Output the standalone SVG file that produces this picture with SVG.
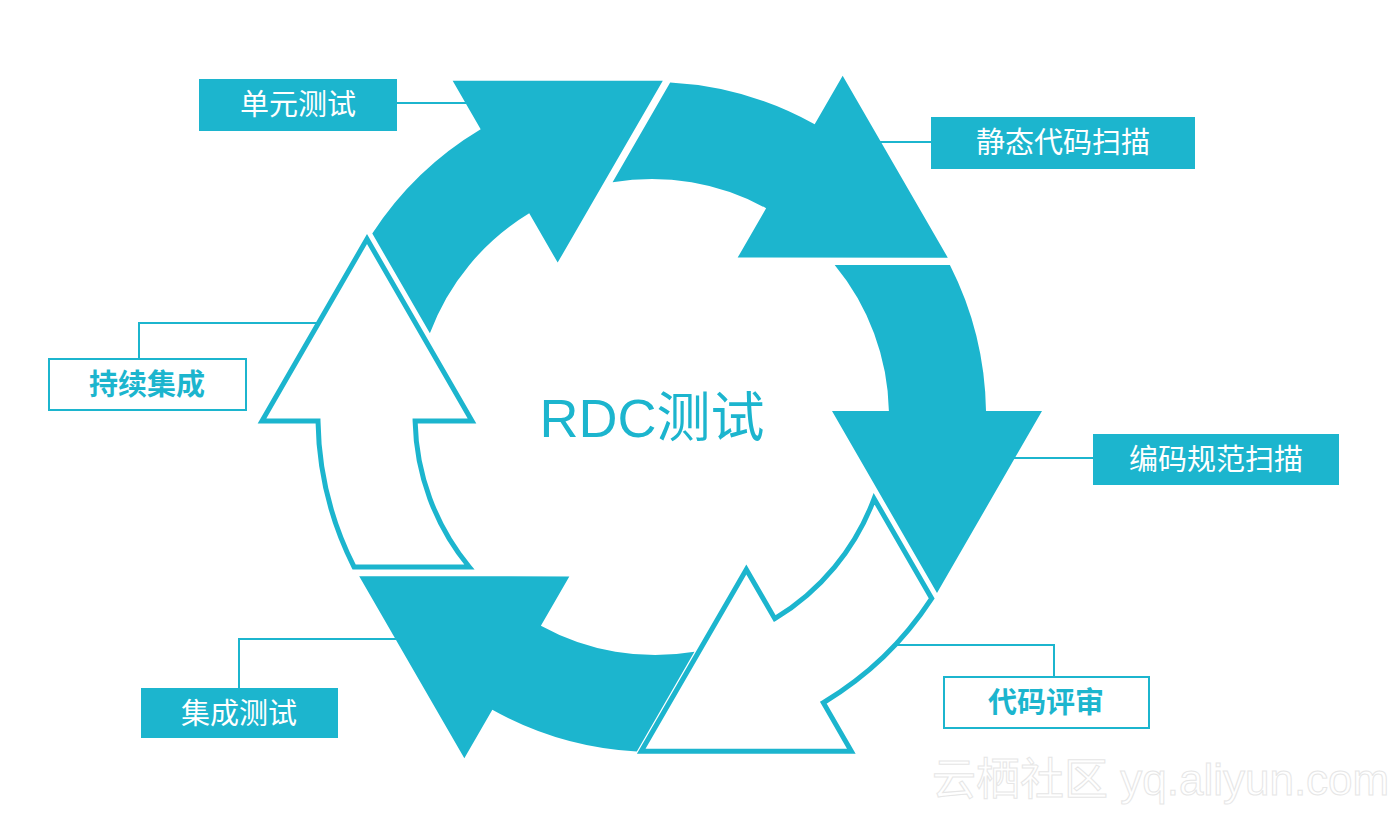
<svg xmlns="http://www.w3.org/2000/svg" xmlns:xlink="http://www.w3.org/1999/xlink" width="1400" height="813" viewBox="0 0 1400 813">
  <style>
    .conn { fill: none; stroke: #1cb5ce; stroke-width: 2; }
    .solid { fill: #1cb5ce; }
    .hollow { fill: #ffffff; stroke: #1cb5ce; stroke-width: 5; stroke-linejoin: miter; stroke-miterlimit: 10; }
    .boxf { fill: #1cb5ce; }
    .boxo { fill: #ffffff; stroke: #1cb5ce; stroke-width: 2; }
    .lblf { font-family: "Noto Sans CJK SC", "Noto Sans", sans-serif; font-size: 29px; fill: #ffffff; text-anchor: middle; }
    .lblo { font-family: "Noto Sans CJK SC", "Noto Sans", sans-serif; font-size: 29px; font-weight: bold; fill: #1cb5ce; text-anchor: middle; }
    .title { font-family: "Liberation Sans", "Noto Sans CJK SC", sans-serif; font-size: 54px; fill: #1cb5ce; text-anchor: middle; }
    .wm { font-family: "Liberation Sans", "Noto Sans CJK SC", sans-serif; font-size: 44px; fill: #ffffff; stroke: #e6e6e6; stroke-width: 1; }
  </style>
  <defs>
    <path id="arr" d="M 182.7,-151 L 297.9,-151 A 334 334 0 0 1 334,-5 L 390,-5 L 285,177 L 180,-5 L 236.9,-5 A 237 237 0 0 0 182.7,-151 Z"/>
  </defs>
  <rect width="1400" height="813" fill="#ffffff"/>

  <g id="connectors">
    <polyline class="conn" points="397,103 470,103"/>
    <polyline class="conn" points="870,142 931,142"/>
    <polyline class="conn" points="1005,458 1093,458"/>
    <polyline class="conn" points="890,645 1054,645 1054,677"/>
    <polyline class="conn" points="405,639 239,639 239,688"/>
    <polyline class="conn" points="320,323 139,323 139,359"/>
  </g>

  <g id="cycle" transform="translate(652,416)">
    <g id="arrow-unit"><use xlink:href="#arr" href="#arr" class="solid" transform="rotate(-120)"/></g>
    <g id="arrow-static"><use xlink:href="#arr" href="#arr" class="solid" transform="rotate(-60)"/></g>
    <g id="arrow-style"><use xlink:href="#arr" href="#arr" class="solid"/></g>
    <g id="arrow-review"><use xlink:href="#arr" href="#arr" class="hollow" transform="rotate(60)"/></g>
    <g id="arrow-integration"><use xlink:href="#arr" href="#arr" class="solid" transform="translate(3,2) rotate(120)"/></g>
    <g id="arrow-ci"><use xlink:href="#arr" href="#arr" class="hollow" transform="rotate(180)"/></g>
  </g>

  <g id="title">
    <text class="title" x="652" y="437">RDC测试</text>
  </g>

  <g id="node-unit">
    <rect class="boxf" x="199" y="79" width="198" height="52"/>
    <text class="lblf" x="298" y="115">单元测试</text>
  </g>
  <g id="node-static">
    <rect class="boxf" x="931" y="117" width="264" height="52"/>
    <text class="lblf" x="1063" y="153">静态代码扫描</text>
  </g>
  <g id="node-style">
    <rect class="boxf" x="1093" y="434" width="246" height="51"/>
    <text class="lblf" x="1216" y="470">编码规范扫描</text>
  </g>
  <g id="node-review">
    <rect class="boxo" x="944" y="677" width="205" height="51"/>
    <text class="lblo" x="1046" y="713">代码评审</text>
  </g>
  <g id="node-integration">
    <rect class="boxf" x="141" y="688" width="197" height="50"/>
    <text class="lblf" x="239" y="724">集成测试</text>
  </g>
  <g id="node-ci">
    <rect class="boxo" x="49" y="359" width="197" height="51"/>
    <text class="lblo" x="147" y="395">持续集成</text>
  </g>

  <g id="watermark">
    <text class="wm" x="932" y="795">云栖社区 yq.aliyun.com</text>
  </g>
</svg>
